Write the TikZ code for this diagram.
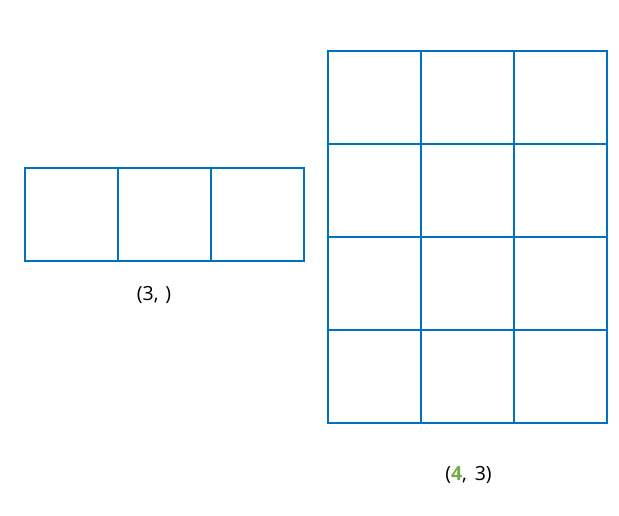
\documentclass[tikz,border=0pt]{standalone}
\usepackage{fontspec}
\setmainfont{Open Sans}
\definecolor{gridblue}{HTML}{0070C0}
\definecolor{numgreen}{HTML}{70AD47}
\begin{document}
\begin{tikzpicture}[x=1pt,y=-1pt,
  cellbox/.style={draw=gridblue,line width=1.5pt,minimum width=93pt,minimum height=93pt,inner sep=0pt,anchor=north west},
  lbl/.style={font=\fontsize{19.5}{22}\selectfont,inner sep=0pt}]
\useasboundingbox (0,0) rectangle (619,515);
% left grid
\foreach \c in {0,1,2}{
  \node[cellbox] (L\c) at ({24.25+93*\c},167.25) {};
}
% right grid
\foreach \r in {0,1,2,3}{
  \foreach \c in {0,1,2}{
    \node[cellbox] (R\r\c) at ({327.25+93*\c},{50.25+93*\r}) {};
  }
}
\node[lbl] (lblL) at (154,295) {(3,\hspace{0.35em})};
\node[lbl] (lblR) at (468.5,475) {({\color{numgreen}\bfseries 4},\hspace{0.4em}3)};
\end{tikzpicture}
\end{document}
